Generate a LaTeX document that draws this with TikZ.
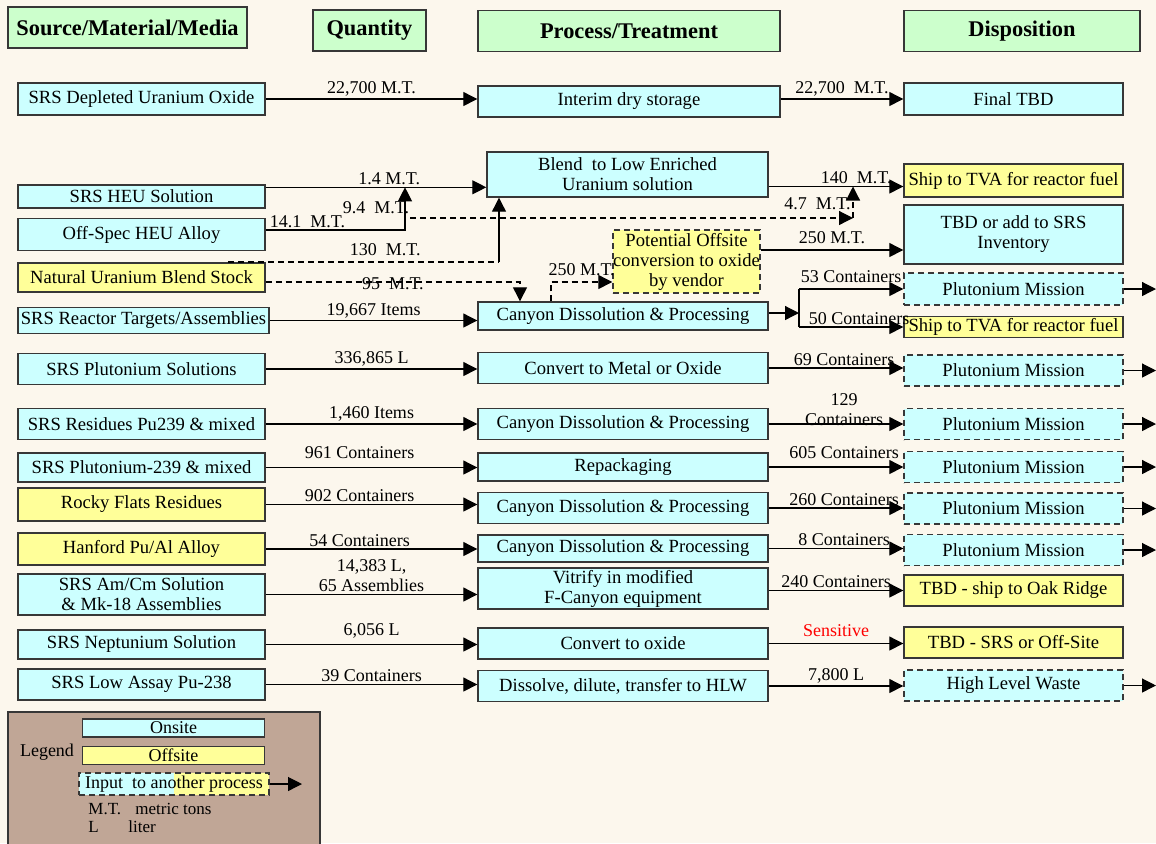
\documentclass[tikz,border=0pt]{standalone}
\usepackage{fontspec}
\setmainfont{Liberation Serif}
\usetikzlibrary{arrows.meta,positioning,calc}
\definecolor{SrsCream}{RGB}{252,247,237}
\definecolor{SrsCyan}{RGB}{204,255,255}
\definecolor{SrsYellow}{RGB}{255,255,153}
\definecolor{SrsGreen}{RGB}{204,255,204}
\definecolor{SrsTaupe}{RGB}{192,166,150}
\definecolor{SrsEdge}{RGB}{55,55,55}
\definecolor{SrsRed}{RGB}{255,0,0}

\begin{document}
\begin{tikzpicture}[
    x=0.5pt,y=-0.5pt,
    box/.style={draw=SrsEdge,line width=0.7pt,fill=SrsCyan,minimum height=15.5pt,inner sep=1pt,align=center,font=\fontsize{9.3}{10}\selectfont},
    src/.style={box,minimum width=123.5pt},
    proc/.style={box,minimum width=145pt},
    disp/.style={box,minimum width=109.5pt},
    offsite/.style={fill=SrsYellow},
    feed/.style={dash pattern=on 3pt off 2pt},
    hdr/.style={draw=SrsEdge,line width=0.7pt,fill=SrsGreen,minimum height=20.5pt,font=\fontsize{11.2}{13}\selectfont\bfseries},
    lbl/.style={font=\fontsize{9}{10}\selectfont,inner sep=1pt},
    arr/.style={-{Triangle[length=7pt,width=7pt]},line width=0.6pt,draw=black}
  ]
    \fill[SrsCream] (0,0) rectangle (1156,843);
    \useasboundingbox (0,0) rectangle (1156,843);

    % column heads
    \node[hdr,minimum width=119.5pt] (hsrc) at (127.5,27.5) {Source/Material/Media};
    \node[hdr,minimum width=56.5pt] (hqty) at (369.5,30.5) {Quantity};
    \node[hdr,minimum width=151pt] (hproc) at (629,31) {Process/Treatment};
    \node[hdr,minimum width=118pt] (hdisp) at (1022,31) {Disposition};

    % depleted uranium
    \node[src,minimum height=16pt] (du) at (141.5,99) {SRS Depleted Uranium Oxide};
    \node[proc,minimum width=151pt] (store) at (629,101.5) {Interim dry storage};
    \node[disp,minimum height=16pt] (final) at (1013.5,99) {Final TBD};
    \draw[arr] (du.east) -- node[lbl,above]{22,700 M.T.} (du.east -| store.west);
    \draw[arr] (store.east |- du.east) -- node[lbl,above]{22,700\ \ M.T.} (final.west);

    % HEU and blending
    \node[src,minimum height=11.5pt] (heu) at (141.5,196.5) {SRS HEU Solution};
    \node[src,minimum height=16pt] (alloy) at (141.5,234.5) {Off-Spec HEU Alloy};
    \node[src,offsite,minimum height=14.5pt] (nat) at (141.5,277.5) {Natural Uranium Blend Stock};
    \node[src,minimum width=125.5pt,minimum height=13pt] (targ) at (143.5,320.5) {SRS Reactor Targets/Assemblies};
    \node[proc,minimum width=140.5pt,minimum height=22.5pt] (blend) at (627.5,174.5) {Blend\ \ to Low Enriched\\Uranium solution};
    \node[proc,minimum height=14pt] (canyonA) at (623,316) {Canyon Dissolution \& Processing};
    \node[box,offsite,feed,minimum width=73.5pt,minimum height=31.5pt,inner sep=0pt] (vendor) at (686.5,261.5) {Potential Offsite\\conversion to oxide\\by vendor};
    \node[disp,offsite,minimum height=16.5pt] (tvaA) at (1013.5,180.5) {Ship to TVA for reactor fuel};
    \node[disp,minimum height=29.5pt] (inv) at (1013.5,234.5) {TBD or add to SRS\\Inventory};
    \node[disp,feed,minimum height=16pt] (puA) at (1013.5,289) {Plutonium Mission};
    \node[disp,offsite,minimum height=10pt] (tvaB) at (1013.5,327) {Ship to TVA for reactor fuel};

    \coordinate (heuOut) at ($(heu.north east)+(0,3)$);
    \coordinate (jn) at (405,230);
    \coordinate (dsh) at (410,218);
    \coordinate (tvaIn) at (853,218);
    \coordinate (blendOut) at ($(blend.east)+(0,12)$);
    \coordinate (natTop) at (228,262);
    \coordinate (bend130) at (499,262);
    \coordinate (bend95) at (520,282);
    \coordinate (bend250) at (551,282);
    \coordinate (vendOut) at ($(vendor.east)+(0,-11.5)$);
    \coordinate (split) at (799,313);
    \coordinate (puAout) at (1156,289);

    \draw[arr] (heuOut) -- node[lbl,above,pos=0.56]{1.4 M.T.} (heuOut -| blend.west);
    \draw[arr] (alloy.east |- jn) -- node[lbl,above,pos=0.3]{14.1\ \ M.T.} (jn) -- (jn |- heuOut);
    \draw[arr,feed] (dsh) -- node[lbl,above,pos=0,xshift=-17pt,yshift=1pt]{9.4\ \ M.T.} node[lbl,above,pos=0.92,yshift=3pt]{4.7\ \ M.T.} (tvaIn);
    \draw[arr,feed] (tvaIn) -- (tvaIn |- blendOut);
    \draw[arr] (blendOut) -- node[lbl,above,pos=0.65]{140\ \ M.T.} (blendOut -| tvaA.west);
    \draw[feed,line width=0.6pt] (natTop) -- node[lbl,above,pos=0.58,yshift=2pt]{130\ \ M.T.} (bend130);
    \draw[arr] (bend130) -- (bend130 |- blend.south);
    \draw[arr,feed] (nat.east |- bend95) -- node[lbl,above,yshift=-5pt]{95\ \ M.T.} (bend95) -- (bend95 |- canyonA.north);
    \draw[arr,feed] (bend250 |- canyonA.north) -- (bend250) -- node[lbl,above,yshift=2pt]{250 M.T.} (bend250 -| vendor.west);
    \draw[arr] (vendOut) -- node[lbl,above,yshift=2pt]{250 M.T.} (vendOut -| inv.west);
    \draw[arr] (targ.east) -- node[lbl,above]{19,667 Items} (targ.east -| canyonA.west);
    \draw[arr] (canyonA.east |- split) -- (split);
    \draw[line width=0.6pt] (split |- puA.west) -- (split |- tvaB.west);
    \draw[arr] (split |- puA.west) -- node[lbl,above,yshift=2pt]{53 Containers} (puA.west);
    \draw[arr] (split |- tvaB.west) -- node[lbl,above,xshift=4pt]{50 Containers} (tvaB.west);
    \draw[arr] (puA.east) -- (puAout);

    % plutonium rows
    \node[src] (pusol) at (141.5,369) {SRS Plutonium Solutions};
    \node[proc] (metal) at (623,368) {Convert to Metal or Oxide};
    \node[disp,feed] (puB) at (1013.5,370.5) {Plutonium Mission};
    \node[src] (resid) at (141.5,424) {SRS Residues Pu239 \& mixed};
    \node[proc] (canyonB) at (623,424) {Canyon Dissolution \& Processing};
    \node[disp,feed] (puC) at (1013.5,424) {Plutonium Mission};
    \node[src,minimum height=14.5pt] (pu239) at (141.5,467.5) {SRS Plutonium-239 \& mixed};
    \node[proc,minimum height=14pt] (repack) at (623,467) {Repackaging};
    \node[disp,feed] (puD) at (1013.5,467) {Plutonium Mission};
    \node[src,offsite,minimum height=16.5pt] (rocky) at (141.5,504.5) {Rocky Flats Residues};
    \node[proc] (canyonC) at (623,508) {Canyon Dissolution \& Processing};
    \node[disp,feed] (puE) at (1013.5,508.5) {Plutonium Mission};
    \node[src,offsite,minimum height=16pt] (hanf) at (141.5,549) {Hanford Pu/Al Alloy};
    \node[proc,minimum height=13.5pt] (canyonD) at (623,548.5) {Canyon Dissolution \& Processing};
    \node[disp,feed] (puF) at (1013.5,550) {Plutonium Mission};

    \draw[arr] (pusol.east) -- node[lbl,above]{336,865 L} (pusol.east -| metal.west);
    \draw[arr] (metal.east) -- node[lbl,above,xshift=4pt]{69 Containers} (metal.east -| puB.west);
    \draw[arr] (resid.east) -- node[lbl,above]{1,460 Items} (resid.east -| canyonB.west);
    \draw[arr] (canyonB.east) -- node[lbl,above,align=center,yshift=-2pt,xshift=4pt]{129\\Containers} (canyonB.east -| puC.west);
    \draw[arr] (pu239.east) -- node[lbl,above,yshift=3pt,xshift=-6pt]{961 Containers} (pu239.east -| repack.west);
    \draw[arr] (repack.east) -- node[lbl,above,yshift=3pt,xshift=4pt]{605 Containers} (repack.east -| puD.west);
    \draw[arr] (rocky.east) -- node[lbl,above,xshift=-6pt]{902 Containers} (rocky.east -| canyonC.west);
    \draw[arr] (canyonC.east) -- node[lbl,above,xshift=4pt]{260 Containers} (canyonC.east -| puE.west);
    \draw[arr] (hanf.east) -- node[lbl,above,xshift=-6pt]{54 Containers} (hanf.east -| canyonD.west);
    \draw[arr] (canyonD.east) -- node[lbl,above,xshift=4pt]{8 Containers} (canyonD.east -| puF.west);
    \foreach \pm in {puB,puC,puD,puE,puF}
      \draw[arr] (\pm.east) -- (\pm.east -| puAout);

    % other materials
    \node[src,minimum height=20.5pt] (amcm) at (141.5,594.5) {SRS Am/Cm Solution\\\& Mk-18 Assemblies};
    \node[proc,minimum height=20.5pt] (vitr) at (623,588.5) {Vitrify in modified\\F-Canyon equipment};
    \node[disp,offsite] (oak) at (1013.5,590.5) {TBD - ship to Oak Ridge};
    \node[src,minimum height=14.5pt] (nept) at (141.5,644.5) {SRS Neptunium Solution};
    \node[proc] (oxide) at (623,643.5) {Convert to oxide};
    \node[disp,offsite] (srsoff) at (1013.5,642.5) {TBD - SRS or Off-Site};
    \node[src] (lowpu) at (141.5,684.5) {SRS Low Assay Pu-238};
    \node[proc] (hlw) at (623,686) {Dissolve, dilute, transfer to HLW};
    \node[disp,feed] (waste) at (1013.5,685.5) {High Level Waste};

    \draw[arr] (amcm.east) -- node[lbl,above,align=center]{14,383 L,\\65 Assemblies} (amcm.east -| vitr.west);
    \draw[arr] (vitr.east |- oak.west) -- node[lbl,above]{240 Containers} (oak.west);
    \draw[arr] (nept.east) -- node[lbl,above,yshift=2pt]{6,056 L} (nept.east -| oxide.west);
    \draw[arr] (oxide.east) -- node[lbl,above,yshift=2pt,text=SrsRed]{Sensitive} (oxide.east -| srsoff.west);
    \draw[arr] (lowpu.east) -- node[lbl,above]{39 Containers} (lowpu.east -| hlw.west);
    \draw[arr] (hlw.east) -- node[lbl,above]{7,800 L} (hlw.east -| waste.west);
    \draw[arr] (waste.east) -- (waste.east -| puAout);

    % legend
    \draw[draw=SrsEdge,line width=0.7pt,fill=SrsTaupe] (8,712) rectangle (320,850);
    \node[lbl] (klab) at (47,752) {Legend};
    \node[box,minimum width=91pt,minimum height=9pt,font=\fontsize{9}{10}\selectfont] (kon) at (173.5,728) {Onsite};
    \node[box,offsite,minimum width=91pt,minimum height=9pt,font=\fontsize{9}{10}\selectfont] (koff) at (173.5,755.5) {Offsite};
    \node[box,feed,minimum width=95pt,minimum height=11pt,font=\fontsize{9}{10}\selectfont,
      path picture={\fill[SrsYellow] (path picture bounding box.north) rectangle (path picture bounding box.south east);}] (kin) at (174,784) {Input\ \ to another process};
    \coordinate (kinOut) at (302,784);
    \draw[arr] (kin.east) -- (kinOut);
    \node[lbl,anchor=west,align=left,font=\fontsize{8.5}{9}\selectfont] (kabbr) at (86,818) {\makebox[23.5pt][l]{M.T.}metric tons\\\makebox[20pt][l]{L}liter};
  \end{tikzpicture}
\end{document}
